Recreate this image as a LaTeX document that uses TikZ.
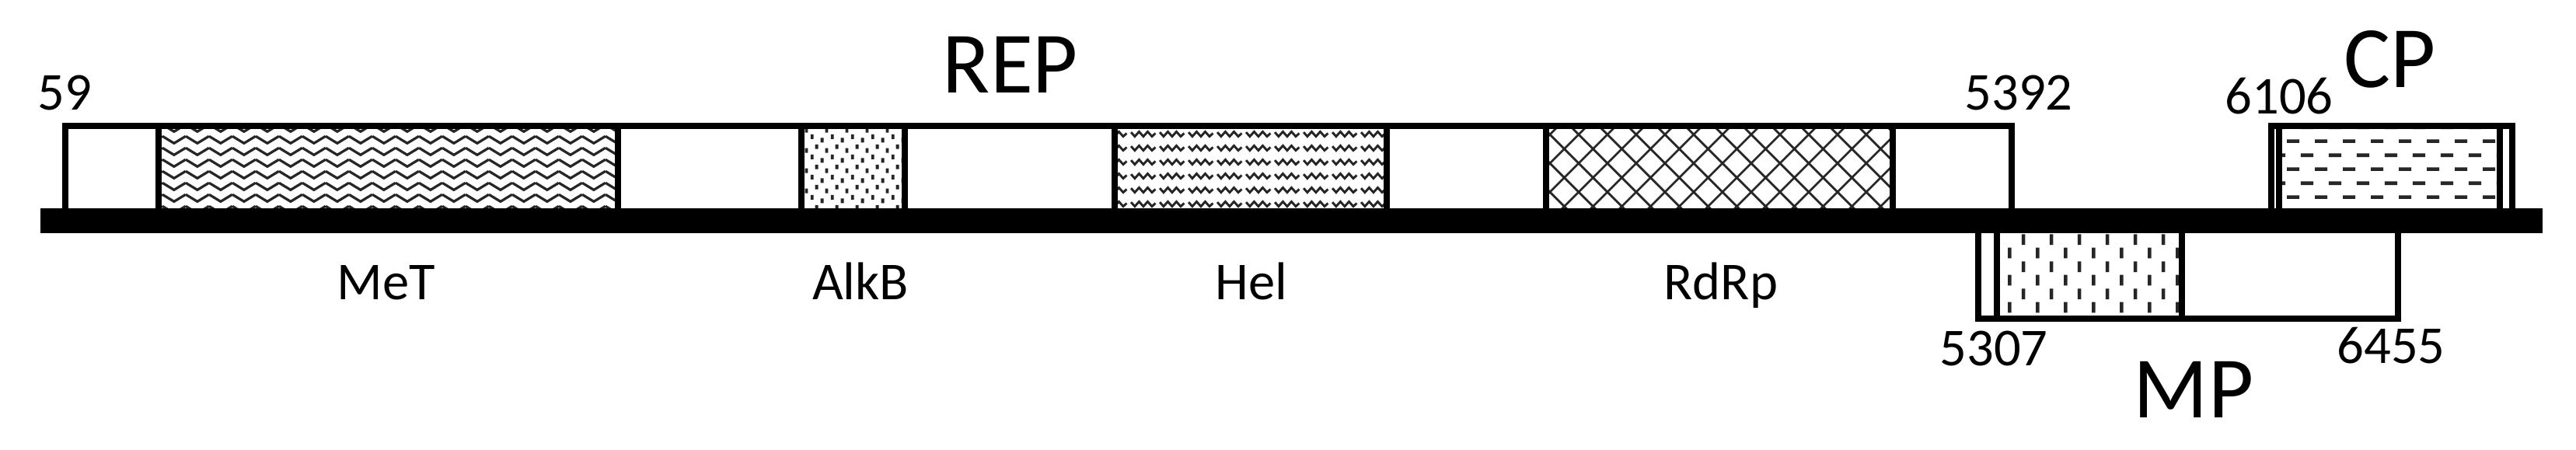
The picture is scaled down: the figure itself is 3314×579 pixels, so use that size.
\documentclass[tikz,border=0pt]{standalone}
\usepackage{fontspec}
\setmainfont{Carlito}
\usepackage{tikz}
\usetikzlibrary{patterns}

% fill patterns of the domains
\pgfdeclarepatternformonly{metwave}{\pgfpointorigin}{\pgfpoint{8.5pt}{4.3pt}}{\pgfpoint{8.5pt}{4.3pt}}{%
  \pgfsetlinewidth{0.95pt}
  \pgfpathmoveto{\pgfpoint{0pt}{3.5pt}}
  \pgfpathlineto{\pgfpoint{4.25pt}{0.8pt}}
  \pgfpathlineto{\pgfpoint{8.5pt}{3.5pt}}
  \pgfusepath{stroke}}
\pgfdeclarepatternformonly{alkdots}{\pgfpointorigin}{\pgfpoint{7.5pt}{7.5pt}}{\pgfpoint{7.5pt}{7.5pt}}{%
  \pgfpathrectangle{\pgfpoint{0.5pt}{0.5pt}}{\pgfpoint{1.1pt}{1.7pt}}
  \pgfpathrectangle{\pgfpoint{4.3pt}{1.8pt}}{\pgfpoint{1.1pt}{1.7pt}}
  \pgfpathrectangle{\pgfpoint{2.2pt}{4.2pt}}{\pgfpoint{1.1pt}{1.7pt}}
  \pgfpathrectangle{\pgfpoint{6pt}{5.6pt}}{\pgfpoint{1.1pt}{1.7pt}}
  \pgfusepath{fill}}
\pgfdeclarepatternformonly{helwave}{\pgfpointorigin}{\pgfpoint{10.6pt}{5.2pt}}{\pgfpoint{10.6pt}{5.2pt}}{%
  \pgfsetlinewidth{0.85pt}
  \pgfpathmoveto{\pgfpoint{0.6pt}{2.6pt}}
  \pgfpathlineto{\pgfpoint{2pt}{1pt}}
  \pgfpathlineto{\pgfpoint{3.6pt}{2.8pt}}
  \pgfpathlineto{\pgfpoint{5.2pt}{1pt}}
  \pgfpathlineto{\pgfpoint{6.8pt}{2.8pt}}
  \pgfpathlineto{\pgfpoint{8.4pt}{1pt}}
  \pgfpathlineto{\pgfpoint{9.7pt}{2.2pt}}
  \pgfusepath{stroke}}
\pgfdeclarepatternformonly{rdrpcross}{\pgfpointorigin}{\pgfpoint{10.5pt}{10.5pt}}{\pgfpoint{10.5pt}{10.5pt}}{%
  \pgfsetlinewidth{0.8pt}
  \pgfpathmoveto{\pgfpoint{0pt}{0pt}}
  \pgfpathlineto{\pgfpoint{10.5pt}{10.5pt}}
  \pgfpathmoveto{\pgfpoint{0pt}{10.5pt}}
  \pgfpathlineto{\pgfpoint{10.5pt}{0pt}}
  \pgfusepath{stroke}}
\pgfdeclarepatternformonly{mpdash}{\pgfpointorigin}{\pgfpoint{10.2pt}{10pt}}{\pgfpoint{10.2pt}{10pt}}{%
  \pgfpathrectangle{\pgfpoint{0.3pt}{0.5pt}}{\pgfpoint{1.3pt}{4pt}}
  \pgfpathrectangle{\pgfpoint{5.4pt}{5.5pt}}{\pgfpoint{1.3pt}{4pt}}
  \pgfusepath{fill}}
\pgfdeclarepatternformonly{cpdash}{\pgfpointorigin}{\pgfpoint{10.2pt}{10.2pt}}{\pgfpoint{10.2pt}{10.2pt}}{%
  \pgfpathrectangle{\pgfpoint{0.3pt}{0.3pt}}{\pgfpoint{4.6pt}{1.3pt}}
  \pgfpathrectangle{\pgfpoint{5.4pt}{5.4pt}}{\pgfpoint{4.6pt}{1.3pt}}
  \pgfusepath{fill}}

\tikzset{
  gbox/.style={draw, line width=2.5pt, fill=white},
  dom/.style={draw, line width=2.4pt, pattern=#1, pattern color=black!85},
  lbl/.style={anchor=base, inner sep=0pt, font=\fontsize{19.5}{22}\selectfont},
  biglbl/.style={anchor=base, inner sep=0pt, font=\fontsize{32}{35}\selectfont}
}

\begin{document}
\begin{tikzpicture}[x=0.01cm, y=-0.01cm]
  \useasboundingbox (0,0) rectangle (3314,579);

  % REP
  \draw[gbox] (84,284) -- (84,162) -- (2588,162) -- (2588,284);
  \draw[dom=metwave]   (204,162) rectangle (795,284);
  \draw[dom=alkdots]   (1031,162) rectangle (1164,284);
  \draw[dom=helwave]   (1434,162) rectangle (1784,284);
  \draw[dom=rdrpcross] (1989,162) rectangle (2435,284);

  % CP
  \draw[gbox] (2922,284) -- (2922,162) -- (3232,162) -- (3232,284);
  \draw[dom=cpdash] (2932,162) rectangle (3216,284);

  % MP
  \draw[gbox] (2545,284) -- (2545,410) -- (3085,410) -- (3085,284);
  \draw[dom=mpdash] (2569,284) rectangle (2807,410);

  % genome line
  \draw[line width=9.1pt] (52,284) -- (3271,284);

  % labels
  \node[biglbl] (rep) at (1300,120) {REP};
  \node[biglbl] (cp) at (3075,113) {CP};
  \node[biglbl] (mp) at (2822,537) {MP};

  \node[lbl] (s59) at (83,142) {59};
  \node[lbl] (s5392) at (2597,142) {5392};
  \node[lbl] (s6106) at (2932,147) {6106};
  \node[lbl] (s5307) at (2565,470) {5307};
  \node[lbl] (s6455) at (3076,467) {6455};

  \node[lbl] (met) at (497,385) {MeT};
  \node[lbl] (alkb) at (1107,385) {AlkB};
  \node[lbl] (hel) at (1610,385) {Hel};
  \node[lbl] (rdrp) at (2214,385) {RdRp};
\end{tikzpicture}
\end{document}
